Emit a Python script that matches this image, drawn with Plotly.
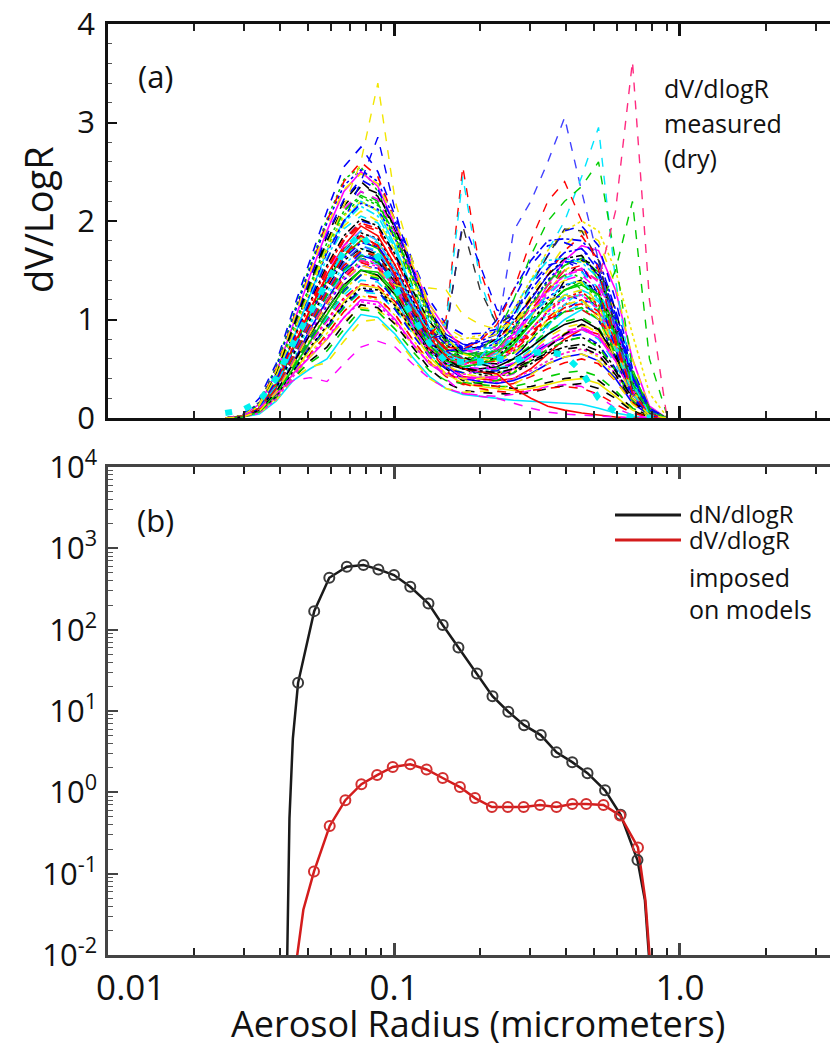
import plotly.graph_objects as go

# ---------------- DATA ----------------
# Panel (a): measured dry dV/dlogR size distributions, on the instrument radius bins
radius_bins = [0.0257, 0.0295, 0.0338, 0.0387, 0.0444, 0.0509, 0.0583, 0.0668, 0.0766, 0.0878,
               0.101, 0.116, 0.133, 0.152, 0.174, 0.2, 0.229, 0.262, 0.301, 0.345,
               0.395, 0.453, 0.519, 0.595, 0.682, 0.782, 0.896]

c01 = [0, 0.03, 0.2, 0.55, 1.1, 1.6, 2.1, 2.55, 2.75, 2.5, 2.05, 1.6, 1.2, 0.95, 0.85, 0.86, 0.9, 1.1, 1.35, 1.55, 1.6, 1.5, 1.2, 0.75, 0.3, 0.06, 0]
c02 = [0, 0.02, 0.15, 0.5, 1.0, 1.5, 2.0, 2.4, 2.6, 2.45, 2.0, 1.5, 1.1, 0.85, 0.75, 0.76, 0.8, 0.95, 1.2, 1.45, 1.7, 1.85, 1.6, 1.0, 0.4, 0.08, 0]
c03 = [0, 0.02, 0.14, 0.45, 0.95, 1.45, 1.9, 2.3, 2.5, 2.35, 1.95, 1.55, 1.15, 0.9, 0.7, 0.64, 0.65, 0.8, 1.05, 1.35, 1.6, 1.75, 1.7, 1.3, 0.6, 0.12, 0]
c04 = [0, 0.01, 0.1, 0.4, 0.85, 1.35, 1.85, 2.2, 2.4, 2.25, 1.9, 1.45, 1.05, 0.75, 0.6, 0.56, 0.55, 0.6, 0.8, 1.1, 1.4, 1.6, 1.55, 1.1, 0.45, 0.1, 0]
c05 = [0, 0.02, 0.12, 0.42, 0.9, 1.3, 1.75, 2.1, 2.3, 2.2, 1.8, 1.35, 0.95, 0.7, 0.6, 0.6, 0.62, 0.75, 1.0, 1.3, 1.55, 1.65, 1.4, 0.85, 0.3, 0.05, 0]
c06 = [0, 0.01, 0.1, 0.35, 0.8, 1.25, 1.7, 2.0, 2.2, 2.1, 1.75, 1.3, 0.9, 0.65, 0.5, 0.47, 0.45, 0.5, 0.65, 0.85, 1.0, 1.1, 1.0, 0.7, 0.3, 0.05, 0]
c07 = [0, 0.02, 0.11, 0.38, 0.78, 1.2, 1.6, 1.95, 2.1, 2.0, 1.7, 1.3, 0.95, 0.75, 0.7, 0.72, 0.75, 0.95, 1.25, 1.5, 1.75, 1.9, 1.8, 1.35, 0.6, 0.1, 0]
c08 = [0, 0.01, 0.09, 0.33, 0.72, 1.1, 1.5, 1.8, 2.0, 1.95, 1.65, 1.25, 0.9, 0.68, 0.58, 0.56, 0.55, 0.62, 0.78, 0.95, 1.1, 1.2, 1.15, 0.85, 0.35, 0.06, 0]
c09 = [0, 0.01, 0.08, 0.3, 0.7, 1.1, 1.45, 1.75, 1.95, 1.85, 1.55, 1.15, 0.8, 0.55, 0.42, 0.4, 0.38, 0.4, 0.5, 0.65, 0.8, 0.9, 0.85, 0.6, 0.25, 0.04, 0]
c10 = [0, 0.02, 0.1, 0.36, 0.75, 1.15, 1.5, 1.75, 1.9, 1.8, 1.5, 1.15, 0.85, 0.7, 0.68, 0.7, 0.72, 0.85, 1.05, 1.25, 1.4, 1.45, 1.3, 0.9, 0.4, 0.08, 0]
c11 = [0, 0.01, 0.07, 0.28, 0.65, 1.0, 1.4, 1.7, 1.85, 1.75, 1.45, 1.05, 0.72, 0.5, 0.38, 0.35, 0.32, 0.3, 0.32, 0.36, 0.4, 0.42, 0.38, 0.25, 0.1, 0.02, 0]
c12 = [0, 0.02, 0.1, 0.32, 0.7, 1.05, 1.4, 1.65, 1.8, 1.72, 1.45, 1.12, 0.85, 0.7, 0.65, 0.66, 0.68, 0.78, 0.95, 1.15, 1.3, 1.35, 1.25, 0.95, 0.45, 0.1, 0]
c13 = [0, 0.01, 0.08, 0.3, 0.62, 0.98, 1.3, 1.58, 1.75, 1.7, 1.45, 1.1, 0.78, 0.58, 0.5, 0.5, 0.5, 0.55, 0.65, 0.75, 0.85, 0.9, 0.8, 0.55, 0.2, 0.03, 0]
c14 = [0, 0.01, 0.09, 0.3, 0.6, 0.95, 1.25, 1.52, 1.7, 1.65, 1.4, 1.08, 0.8, 0.62, 0.55, 0.56, 0.58, 0.7, 0.9, 1.1, 1.25, 1.3, 1.15, 0.75, 0.3, 0.05, 0]
c15 = [0, 0.01, 0.07, 0.26, 0.56, 0.9, 1.2, 1.48, 1.65, 1.6, 1.38, 1.05, 0.75, 0.52, 0.4, 0.37, 0.35, 0.38, 0.45, 0.55, 0.62, 0.65, 0.58, 0.4, 0.15, 0.03, 0]
c16 = [0, 0.02, 0.09, 0.3, 0.6, 0.92, 1.2, 1.45, 1.6, 1.55, 1.32, 1.02, 0.76, 0.6, 0.55, 0.57, 0.6, 0.72, 0.88, 1.0, 1.08, 1.1, 1.0, 0.7, 0.3, 0.05, 0]
c17 = [0, 0.01, 0.06, 0.24, 0.52, 0.82, 1.1, 1.38, 1.55, 1.5, 1.3, 1.0, 0.72, 0.52, 0.42, 0.41, 0.4, 0.45, 0.58, 0.72, 0.85, 0.92, 0.85, 0.6, 0.25, 0.04, 0]
c18 = [0, 0.01, 0.07, 0.26, 0.55, 0.85, 1.1, 1.35, 1.5, 1.45, 1.25, 0.95, 0.7, 0.55, 0.5, 0.5, 0.52, 0.6, 0.72, 0.85, 0.95, 1.0, 0.9, 0.62, 0.25, 0.04, 0]
c19 = [0, 0.01, 0.06, 0.22, 0.48, 0.75, 1.0, 1.28, 1.45, 1.42, 1.22, 0.92, 0.65, 0.46, 0.36, 0.34, 0.32, 0.32, 0.36, 0.42, 0.46, 0.48, 0.42, 0.28, 0.1, 0.02, 0]
c20 = [0, 0.01, 0.07, 0.25, 0.52, 0.8, 1.02, 1.25, 1.4, 1.38, 1.2, 0.92, 0.68, 0.55, 0.52, 0.54, 0.56, 0.66, 0.8, 0.95, 1.08, 1.15, 1.05, 0.75, 0.32, 0.06, 0]
c21 = [0, 0.01, 0.05, 0.2, 0.45, 0.7, 0.92, 1.18, 1.35, 1.32, 1.15, 0.88, 0.62, 0.45, 0.35, 0.32, 0.3, 0.28, 0.3, 0.34, 0.38, 0.4, 0.35, 0.22, 0.08, 0.01, 0]
c22 = [0, 0.01, 0.06, 0.22, 0.47, 0.72, 0.92, 1.15, 1.3, 1.28, 1.1, 0.85, 0.62, 0.5, 0.46, 0.47, 0.48, 0.55, 0.65, 0.75, 0.82, 0.85, 0.75, 0.5, 0.2, 0.03, 0]
c23 = [0, 0.01, 0.05, 0.2, 0.43, 0.65, 0.85, 1.08, 1.25, 1.22, 1.05, 0.8, 0.57, 0.42, 0.34, 0.33, 0.32, 0.35, 0.42, 0.5, 0.56, 0.6, 0.55, 0.38, 0.15, 0.02, 0]
c24 = [0, 0.01, 0.06, 0.22, 0.45, 0.62, 0.8, 1.02, 1.2, 1.18, 1.0, 0.76, 0.55, 0.44, 0.4, 0.41, 0.42, 0.5, 0.62, 0.74, 0.84, 0.9, 0.82, 0.58, 0.24, 0.04, 0]
c25 = [0, 0.01, 0.05, 0.18, 0.4, 0.58, 0.72, 0.95, 1.15, 1.12, 0.95, 0.72, 0.5, 0.36, 0.28, 0.26, 0.25, 0.24, 0.26, 0.3, 0.33, 0.35, 0.3, 0.2, 0.07, 0.01, 0]
c26 = [0, 0.01, 0.05, 0.2, 0.42, 0.56, 0.68, 0.9, 1.1, 1.08, 0.9, 0.68, 0.48, 0.38, 0.35, 0.36, 0.38, 0.46, 0.58, 0.7, 0.78, 0.82, 0.72, 0.48, 0.18, 0.03, 0]
c27 = [0, 0.01, 0.04, 0.17, 0.38, 0.5, 0.6, 0.84, 1.05, 1.02, 0.85, 0.62, 0.42, 0.3, 0.24, 0.22, 0.2, 0.18, 0.17, 0.16, 0.15, 0.14, 0.1, 0.05, 0.02, 0, 0]
c28 = [0, 0.01, 0.05, 0.18, 0.4, 0.52, 0.56, 0.78, 0.98, 1.0, 0.82, 0.6, 0.4, 0.3, 0.26, 0.27, 0.28, 0.34, 0.44, 0.55, 0.62, 0.65, 0.58, 0.38, 0.14, 0.02, 0]
c29 = [0, 0.01, 0.06, 0.24, 0.5, 0.8, 1.05, 1.3, 1.45, 1.4, 1.2, 0.95, 0.75, 0.68, 0.7, 0.75, 0.82, 1.05, 1.35, 1.65, 1.9, 1.95, 1.75, 1.2, 0.5, 0.1, 0]
c30 = [0, 0.02, 0.1, 0.35, 0.72, 1.1, 1.45, 1.72, 1.85, 1.75, 1.45, 1.1, 0.82, 0.62, 0.5, 0.47, 0.45, 0.3, 0.2, 0.12, 0.08, 0.05, 0.03, 0.01, 0, 0, 0]
c31 = [0, 0.01, 0.08, 0.3, 0.65, 1.0, 1.3, 1.55, 1.65, 1.55, 1.3, 0.95, 0.62, 0.4, 0.25, 0.22, 0.2, 0.15, 0.1, 0.06, 0.04, 0.03, 0.02, 0.01, 0, 0, 0]
c32 = [0, 0.02, 0.12, 0.4, 0.85, 1.3, 1.7, 2.05, 2.2, 2.1, 1.8, 1.4, 1.05, 0.85, 0.8, 0.84, 0.88, 1.1, 1.4, 1.7, 1.9, 2.0, 1.9, 1.5, 0.85, 0.25, 0.02]
c33 = [0, 0.02, 0.13, 0.46, 0.92, 1.38, 1.8, 2.15, 2.35, 2.28, 1.92, 1.5, 1.1, 0.8, 0.62, 0.55, 0.5, 0.52, 0.6, 0.72, 0.85, 0.95, 0.9, 0.65, 0.28, 0.05, 0]
c34 = [0, 0.01, 0.09, 0.32, 0.68, 1.05, 1.38, 1.62, 1.78, 1.74, 1.5, 1.18, 0.9, 0.75, 0.72, 0.78, 0.85, 1.05, 1.3, 1.52, 1.68, 1.72, 1.5, 1.0, 0.42, 0.08, 0]
c35 = [0, 0.01, 0.06, 0.24, 0.5, 0.78, 1.05, 1.32, 1.5, 1.48, 1.28, 1.0, 0.74, 0.58, 0.52, 0.55, 0.6, 0.75, 0.95, 1.15, 1.3, 1.38, 1.25, 0.85, 0.35, 0.06, 0]
c36 = [0, 0.01, 0.07, 0.27, 0.58, 0.9, 1.18, 1.42, 1.58, 1.52, 1.3, 1.0, 0.7, 0.48, 0.35, 0.3, 0.27, 0.26, 0.28, 0.3, 0.32, 0.3, 0.24, 0.14, 0.05, 0.01, 0]
c37 = [0, 0.02, 0.11, 0.4, 0.82, 1.22, 1.62, 1.92, 2.05, 1.98, 1.7, 1.32, 0.98, 0.78, 0.7, 0.7, 0.72, 0.82, 0.98, 1.12, 1.22, 1.25, 1.1, 0.75, 0.3, 0.05, 0]
c38 = [0, 0.01, 0.05, 0.19, 0.42, 0.64, 0.82, 1.02, 1.18, 1.15, 0.98, 0.75, 0.55, 0.45, 0.44, 0.48, 0.55, 0.7, 0.9, 1.08, 1.2, 1.25, 1.1, 0.72, 0.28, 0.05, 0]
c39 = [0, 0.02, 0.14, 0.48, 0.98, 1.48, 1.95, 2.32, 2.48, 2.38, 2.0, 1.55, 1.12, 0.82, 0.65, 0.6, 0.58, 0.65, 0.8, 1.0, 1.15, 1.2, 1.05, 0.7, 0.28, 0.05, 0]
c40 = [0, 0.01, 0.08, 0.3, 0.64, 1.0, 1.32, 1.6, 1.72, 1.66, 1.42, 1.1, 0.8, 0.6, 0.5, 0.48, 0.46, 0.5, 0.58, 0.66, 0.72, 0.75, 0.68, 0.48, 0.2, 0.03, 0]
d01 = [0, 0.02, 0.16, 0.52, 1.05, 1.55, 2.02, 2.42, 2.55, 2.3, 1.9, 1.42, 1.0, 0.72, 0.6, 0.62, 0.7, 0.88, 1.15, 1.4, 1.5, 1.42, 1.1, 0.62, 0.2, 0.03, 0]
d02 = [0, 0.01, 0.11, 0.4, 0.82, 1.25, 1.62, 1.98, 2.15, 2.05, 1.72, 1.28, 0.92, 0.66, 0.55, 0.5, 0.48, 0.55, 0.7, 0.92, 1.15, 1.3, 1.22, 0.82, 0.3, 0.05, 0]
d03 = [0, 0.01, 0.08, 0.31, 0.68, 1.02, 1.36, 1.66, 1.82, 1.78, 1.52, 1.18, 0.88, 0.68, 0.6, 0.6, 0.65, 0.8, 1.02, 1.28, 1.5, 1.6, 1.45, 0.95, 0.38, 0.06, 0]
d04 = [0, 0.01, 0.07, 0.26, 0.55, 0.86, 1.14, 1.4, 1.55, 1.52, 1.34, 1.04, 0.78, 0.62, 0.58, 0.62, 0.7, 0.86, 1.05, 1.22, 1.35, 1.4, 1.25, 0.85, 0.35, 0.06, 0]
d05 = [0, 0.01, 0.06, 0.23, 0.5, 0.76, 1.0, 1.22, 1.36, 1.34, 1.18, 0.92, 0.7, 0.58, 0.56, 0.6, 0.68, 0.82, 0.98, 1.12, 1.22, 1.25, 1.12, 0.78, 0.32, 0.05, 0]
d06 = [0, 0.02, 0.13, 0.45, 0.9, 1.35, 1.78, 2.12, 2.3, 2.22, 1.88, 1.45, 1.05, 0.78, 0.66, 0.65, 0.7, 0.85, 1.08, 1.3, 1.45, 1.5, 1.35, 0.9, 0.35, 0.06, 0]
d07 = [0, 0.01, 0.09, 0.34, 0.72, 1.08, 1.42, 1.7, 1.88, 1.82, 1.55, 1.2, 0.88, 0.64, 0.5, 0.44, 0.42, 0.46, 0.55, 0.68, 0.78, 0.82, 0.74, 0.5, 0.2, 0.03, 0]
d08 = [0, 0.01, 0.07, 0.27, 0.58, 0.9, 1.18, 1.44, 1.6, 1.56, 1.36, 1.06, 0.8, 0.64, 0.6, 0.64, 0.74, 0.92, 1.15, 1.38, 1.55, 1.62, 1.48, 1.02, 0.4, 0.07, 0]
d09 = [0, 0.01, 0.06, 0.22, 0.46, 0.7, 0.9, 1.12, 1.28, 1.26, 1.1, 0.86, 0.64, 0.52, 0.5, 0.54, 0.62, 0.78, 0.96, 1.12, 1.25, 1.3, 1.18, 0.82, 0.32, 0.05, 0]
d10 = [0, 0.01, 0.05, 0.2, 0.44, 0.66, 0.86, 1.08, 1.24, 1.2, 1.04, 0.8, 0.58, 0.44, 0.38, 0.36, 0.36, 0.4, 0.48, 0.58, 0.66, 0.7, 0.62, 0.42, 0.16, 0.02, 0]
d11 = [0, 0.02, 0.12, 0.42, 0.86, 1.28, 1.68, 2.0, 2.18, 2.12, 1.82, 1.42, 1.05, 0.82, 0.72, 0.8, 1.0, 1.3, 1.6, 1.8, 1.82, 1.8, 1.62, 1.1, 0.45, 0.08, 0]
d12 = [0, 0.01, 0.1, 0.36, 0.76, 1.14, 1.5, 1.8, 1.96, 1.9, 1.62, 1.25, 0.92, 0.7, 0.6, 0.58, 0.6, 0.7, 0.86, 1.02, 1.15, 1.2, 1.08, 0.72, 0.28, 0.04, 0]
d13 = [0, 0.01, 0.07, 0.26, 0.56, 0.88, 1.16, 1.42, 1.58, 1.54, 1.32, 1.0, 0.72, 0.52, 0.42, 0.38, 0.36, 0.4, 0.48, 0.58, 0.66, 0.7, 0.64, 0.45, 0.18, 0.03, 0]
d14 = [0, 0.02, 0.11, 0.4, 0.8, 1.18, 1.55, 1.85, 2.02, 1.95, 1.66, 1.3, 0.98, 0.78, 0.7, 0.72, 0.8, 0.98, 1.22, 1.45, 1.62, 1.65, 1.45, 0.95, 0.38, 0.06, 0]
d15 = [0, 0.01, 0.05, 0.21, 0.46, 0.7, 0.9, 1.12, 1.3, 1.28, 1.12, 0.88, 0.66, 0.52, 0.46, 0.46, 0.5, 0.6, 0.74, 0.88, 0.98, 1.02, 0.92, 0.62, 0.24, 0.04, 0]
d16 = [0, 0.01, 0.08, 0.3, 0.64, 0.98, 1.28, 1.55, 1.72, 1.68, 1.45, 1.12, 0.84, 0.66, 0.58, 0.58, 0.62, 0.74, 0.9, 1.05, 1.15, 1.18, 1.05, 0.7, 0.28, 0.05, 0]
d17 = [0, 0.01, 0.06, 0.24, 0.52, 0.8, 1.06, 1.3, 1.46, 1.44, 1.26, 0.98, 0.72, 0.54, 0.45, 0.42, 0.42, 0.48, 0.6, 0.74, 0.86, 0.94, 0.88, 0.62, 0.25, 0.04, 0]
d18 = [0, 0.02, 0.14, 0.46, 0.94, 1.42, 1.86, 2.22, 2.42, 2.32, 1.95, 1.5, 1.08, 0.8, 0.68, 0.72, 0.9, 1.2, 1.55, 1.75, 1.78, 1.72, 1.55, 1.05, 0.42, 0.07, 0]
d19 = [0, 0.01, 0.09, 0.32, 0.68, 1.04, 1.36, 1.64, 1.8, 1.74, 1.48, 1.14, 0.84, 0.64, 0.56, 0.56, 0.6, 0.72, 0.9, 1.08, 1.22, 1.28, 1.15, 0.78, 0.3, 0.05, 0]
d20 = [0, 0.01, 0.06, 0.23, 0.5, 0.76, 0.98, 1.2, 1.35, 1.32, 1.15, 0.9, 0.68, 0.56, 0.54, 0.58, 0.66, 0.84, 1.06, 1.28, 1.45, 1.52, 1.38, 0.95, 0.38, 0.06, 0]
d21 = [0, 0.01, 0.07, 0.28, 0.6, 0.92, 1.2, 1.46, 1.62, 1.58, 1.38, 1.08, 0.8, 0.6, 0.5, 0.46, 0.44, 0.48, 0.56, 0.64, 0.7, 0.72, 0.64, 0.44, 0.17, 0.03, 0]
d22 = [0, 0.02, 0.12, 0.44, 0.88, 1.32, 1.72, 2.06, 2.24, 2.16, 1.84, 1.42, 1.04, 0.78, 0.66, 0.64, 0.66, 0.78, 0.96, 1.15, 1.3, 1.36, 1.22, 0.82, 0.32, 0.05, 0]
d23 = [0, 0.01, 0.08, 0.29, 0.62, 0.95, 1.24, 1.5, 1.66, 1.62, 1.4, 1.08, 0.8, 0.62, 0.56, 0.62, 0.8, 1.1, 1.4, 1.6, 1.62, 1.58, 1.42, 0.96, 0.38, 0.06, 0]
d24 = [0, 0.01, 0.05, 0.19, 0.42, 0.62, 0.8, 0.98, 1.12, 1.1, 0.96, 0.75, 0.56, 0.44, 0.4, 0.4, 0.44, 0.54, 0.68, 0.82, 0.92, 0.96, 0.86, 0.58, 0.22, 0.03, 0]
d25 = [0, 0.02, 0.15, 0.5, 1.02, 1.52, 1.98, 2.36, 2.52, 2.4, 2.0, 1.52, 1.1, 0.82, 0.7, 0.7, 0.76, 0.92, 1.16, 1.4, 1.58, 1.62, 1.45, 0.98, 0.4, 0.07, 0]
d26 = [0, 0.01, 0.1, 0.37, 0.78, 1.16, 1.52, 1.82, 1.98, 1.92, 1.62, 1.24, 0.9, 0.68, 0.58, 0.56, 0.58, 0.68, 0.84, 1.0, 1.12, 1.16, 1.04, 0.7, 0.27, 0.04, 0]
d27 = [0, 0.01, 0.07, 0.27, 0.58, 0.9, 1.18, 1.44, 1.6, 1.56, 1.36, 1.06, 0.78, 0.6, 0.52, 0.5, 0.5, 0.56, 0.66, 0.78, 0.88, 0.92, 0.84, 0.58, 0.23, 0.04, 0]
d28 = [0, 0.01, 0.06, 0.22, 0.48, 0.72, 0.94, 1.16, 1.32, 1.3, 1.14, 0.9, 0.68, 0.55, 0.52, 0.55, 0.62, 0.78, 0.98, 1.18, 1.34, 1.4, 1.28, 0.88, 0.35, 0.06, 0]
d29 = [0, 0.02, 0.13, 0.46, 0.92, 1.36, 1.78, 2.1, 2.26, 2.18, 1.86, 1.44, 1.06, 0.8, 0.66, 0.62, 0.6, 0.66, 0.8, 0.96, 1.08, 1.12, 1.0, 0.66, 0.25, 0.04, 0]
d30 = [0, 0.01, 0.09, 0.33, 0.7, 1.06, 1.4, 1.68, 1.84, 1.78, 1.52, 1.16, 0.86, 0.66, 0.58, 0.6, 0.66, 0.82, 1.04, 1.26, 1.42, 1.48, 1.32, 0.88, 0.34, 0.06, 0]

# outlying spectra with spikes
s01 = [0, 0.02, 0.12, 0.42, 0.85, 1.3, 1.75, 2.15, 2.6, 3.4, 2.2, 1.6, 1.15, 0.92, 0.82, 0.8, 0.85, 0.98, 1.15, 1.3, 1.4, 1.38, 1.15, 0.7, 0.25, 0.04, 0]
s02 = [0, 0.02, 0.1, 0.38, 0.8, 1.2, 1.6, 2.0, 2.4, 2.85, 2.1, 1.5, 1.1, 0.85, 0.75, 0.72, 0.78, 0.9, 1.05, 1.2, 1.25, 1.2, 1.0, 0.6, 0.2, 0.03, 0]
s03 = [0, 0.01, 0.08, 0.3, 0.65, 1.0, 1.35, 1.65, 1.85, 1.75, 1.45, 1.1, 0.85, 1.0, 2.55, 1.5, 1.0, 0.95, 1.1, 1.3, 1.5, 1.55, 1.3, 0.75, 0.25, 0.04, 0]
s04 = [0, 0.01, 0.09, 0.32, 0.7, 1.05, 1.4, 1.7, 1.9, 1.8, 1.5, 1.15, 0.9, 0.95, 2.45, 1.4, 0.9, 0.9, 1.05, 1.2, 1.35, 1.4, 1.2, 0.7, 0.25, 0.04, 0]
s05 = [0, 0.01, 0.07, 0.28, 0.6, 0.92, 1.25, 1.52, 1.68, 1.6, 1.35, 1.05, 0.8, 0.85, 2.0, 1.55, 1.1, 1.0, 1.2, 1.45, 1.6, 1.55, 1.25, 0.7, 0.22, 0.03, 0]
s06 = [0, 0.01, 0.08, 0.3, 0.62, 0.95, 1.28, 1.55, 1.7, 1.62, 1.38, 1.08, 0.8, 0.9, 1.95, 1.3, 0.95, 1.05, 1.35, 1.65, 1.92, 1.9, 1.6, 0.9, 0.3, 0.05, 0]
s07 = [0, 0.01, 0.08, 0.3, 0.64, 0.98, 1.3, 1.58, 1.75, 1.68, 1.42, 1.1, 0.82, 0.66, 0.62, 0.68, 0.85, 1.9, 2.2, 2.6, 3.05, 2.3, 1.6, 0.9, 0.25, 0.04, 0]
s08 = [0, 0.01, 0.07, 0.27, 0.58, 0.9, 1.2, 1.48, 1.62, 1.56, 1.32, 1.02, 0.76, 0.6, 0.56, 0.6, 0.72, 1.0, 1.35, 1.7, 2.0, 2.45, 2.95, 1.4, 0.35, 0.05, 0]
s09 = [0, 0.01, 0.08, 0.3, 0.62, 0.95, 1.25, 1.5, 1.65, 1.58, 1.35, 1.05, 0.8, 0.66, 0.62, 0.68, 0.85, 1.2, 1.65, 2.0, 2.2, 2.35, 2.6, 1.6, 0.5, 0.06, 0]
s10 = [0, 0.01, 0.06, 0.24, 0.52, 0.82, 1.1, 1.35, 1.5, 1.45, 1.25, 0.98, 0.74, 0.6, 0.56, 0.6, 0.7, 0.9, 1.15, 1.35, 1.45, 1.3, 1.1, 1.5, 2.2, 0.6, 0.05]
s11 = [0, 0.01, 0.07, 0.27, 0.58, 0.9, 1.2, 1.45, 1.6, 1.55, 1.32, 1.02, 0.75, 0.6, 0.55, 0.58, 0.68, 0.88, 1.12, 1.35, 1.5, 1.5, 1.4, 2.1, 3.62, 1.2, 0.05]
s12 = [0, 0.01, 0.08, 0.3, 0.63, 0.96, 1.28, 1.55, 1.7, 1.64, 1.4, 1.1, 0.85, 0.72, 0.7, 0.78, 0.95, 1.3, 1.8, 2.2, 2.4, 2.0, 1.5, 0.8, 0.25, 0.04, 0]
low_magenta = [0, 0.02, 0.1, 0.25, 0.38, 0.41, 0.37, 0.55, 0.72, 0.78, 0.72, 0.55, 0.4, 0.3, 0.25, 0.23, 0.22, 0.24, 0.28, 0.32, 0.34, 0.32, 0.22, 0.1, 0.03, 0, 0]
valley_yellow = [0, 0.01, 0.07, 0.26, 0.55, 0.86, 1.15, 1.4, 1.55, 1.5, 1.35, 1.3, 1.32, 1.3, 1.05, 0.95, 0.9, 0.98, 1.1, 1.2, 1.25, 1.2, 1.0, 0.6, 0.2, 0.03, 0]
# mean spectrum (thick cyan dashes)
mean_cyan = [0.05, 0.08, 0.17, 0.4, 0.76, 1.08, 1.4, 1.69, 1.88, 1.63, 1.32, 1.05, 0.76, 0.57, 0.57, 0.57, 0.61, 0.57, 0.66, 0.67, 0.64, 0.47, 0.2, 0.06, 0.01, 0, 0]

# Panel (b): distributions imposed on models
dn_marker_r = [0.0462, 0.0526, 0.0594, 0.0684, 0.0782, 0.0882, 0.1, 0.114, 0.132, 0.148, 0.168,
               0.195, 0.221, 0.251, 0.285, 0.326, 0.37, 0.42, 0.475, 0.547, 0.62, 0.71]
dn_marker_v = [22.2, 169, 435, 594, 624, 551, 470, 337, 210, 114, 60.5,
               29, 15.2, 9.8, 6.7, 5.06, 3.1, 2.35, 1.72, 1.06, 0.53, 0.147]
dn_left_r = [0.0423, 0.0431, 0.0443]
dn_left_v = [0.008, 0.48, 4.6]
dn_right_r = [0.754, 0.782]
dn_right_v = [0.047, 0.008]

dv_marker_r = [0.0525, 0.0596, 0.0676, 0.0769, 0.0873, 0.099, 0.114, 0.130, 0.148, 0.170, 0.192,
               0.220, 0.250, 0.284, 0.324, 0.37, 0.42, 0.47, 0.54, 0.617, 0.713]
dv_marker_v = [0.106, 0.386, 0.80, 1.26, 1.63, 2.05, 2.21, 1.91, 1.50, 1.16, 0.85,
               0.66, 0.66, 0.66, 0.70, 0.66, 0.72, 0.72, 0.70, 0.52, 0.21]
dv_left_r = [0.0455, 0.0482]
dv_left_v = [0.008, 0.036]
dv_right_r = [0.757, 0.786]
dv_right_v = [0.047, 0.008]

x_tick_vals = [0.01, 0.1, 1.0]
x_tick_text = ["\u00a0\u00a0\u00a0\u00a0\u00a00.01", "0.1", "1.0"]
y_a_ticks = [0, 1, 2, 3, 4]
y_b_ticks = [0.01, 0.1, 1, 10, 100, 1000, 10000]
y_b_text = ["10<sup>-2</sup>", "10<sup>-1</sup>", "10<sup>0</sup>", "10<sup>1</sup>",
            "10<sup>2</sup>", "10<sup>3</sup>", "10<sup>4</sup>"]

# ---------------- FIGURE ----------------
FONT = "Open Sans"
W, H = 830, 1045
ML, MR, MT, MB = 108, 0, 24, 90
PW, PH = W - ML - MR, H - MT - MB


def px(xp):
    return (xp - ML) / PW


def py(yp):
    return (H - MB - yp) / PH


band_curves = [c01, d01, c02, d02, c03, d03, c04, d04, c05, d05, c06, d06, c07, d07, c08, d08, c09, d09,
               c10, d10, c11, d11, c12, d12, c13, d13, c14, d14, c15, d15, c16, d16, c17, d17, c18, d18,
               c19, d19, c20, d20, c21, d21, c22, d22, c23, d23, c24, d24, c25, d25, c26, d26, c27, d27,
               c28, d28, c29, d29, c30, d30, c31, c32, c33, c34, c35, c36, c37, c38, c39, c40]
matlab_cols = ["#0000ff", "#00cc00", "#ff0000", "#00e5ff", "#ff00ff", "#f2e600", "#000000"]
dashes = ["dash", "dot", "dash", "dashdot", "solid", "dash"]

fig = go.Figure()
for i, curve in enumerate(band_curves):
    fig.add_trace(go.Scatter(x=radius_bins, y=curve, mode="lines",
                             line=dict(color=matlab_cols[i % 7], width=1.6, dash=dashes[i % 6]),
                             xaxis="x", yaxis="y", hoverinfo="skip", showlegend=False))

spikes = [s01, s02, s03, s04, s05, s06, s07, s08, s09, s10, s11, s12, low_magenta, valley_yellow]
spike_cols = ["#f2e600", "#0000ff", "#ff0000", "#00e5ff", "#0000ff", "#333333", "#4040ff",
              "#00e5ff", "#00cc00", "#00cc00", "#ff2a80", "#ff0000", "#ff00ff", "#f2e600"]
for curve, col in zip(spikes, spike_cols):
    fig.add_trace(go.Scatter(x=radius_bins, y=curve, mode="lines",
                             line=dict(color=col, width=1.4, dash="dash"),
                             xaxis="x", yaxis="y", hoverinfo="skip", showlegend=False))

fig.add_trace(go.Scatter(x=radius_bins, y=mean_cyan, mode="lines",
                         line=dict(color="#00f0f0", width=6, dash="7px,13px"),
                         xaxis="x", yaxis="y", hoverinfo="skip", showlegend=False))

# panel (b)
BLACK, RED = "#1a1a1a", "#d41c1c"
fig.add_trace(go.Scatter(x=dn_left_r + dn_marker_r + dn_right_r, y=dn_left_v + dn_marker_v + dn_right_v,
                         mode="lines", line=dict(color=BLACK, width=2.5),
                         xaxis="x2", yaxis="y2", showlegend=False))
fig.add_trace(go.Scatter(x=dv_left_r + dv_marker_r + dv_right_r, y=dv_left_v + dv_marker_v + dv_right_v,
                         mode="lines", line=dict(color=RED, width=2.5),
                         xaxis="x2", yaxis="y2", showlegend=False))
fig.add_trace(go.Scatter(x=dn_marker_r, y=dn_marker_v, mode="markers",
                         marker=dict(symbol="circle-open", size=10, color="#3a3a3a", line=dict(width=2)),
                         xaxis="x2", yaxis="y2", showlegend=False))
fig.add_trace(go.Scatter(x=dv_marker_r, y=dv_marker_v, mode="markers",
                         marker=dict(symbol="circle-open", size=10, color="#d33030", line=dict(width=2)),
                         xaxis="x2", yaxis="y2", showlegend=False))

minor_x = [0.02, 0.03, 0.04, 0.05, 0.06, 0.07, 0.08, 0.09, 0.2, 0.3, 0.4, 0.5, 0.6, 0.7, 0.8, 0.9, 2, 3]
minor_y = [m * d for d in [0.01, 0.1, 1, 10, 100, 1000] for m in range(2, 10)]

xcommon = dict(type="log", range=[-2, 0.5245], showgrid=False, zeroline=False,
               showline=True, mirror="ticks", ticks="inside", ticklen=12, tickwidth=2.5,
               tickvals=x_tick_vals,
               minor=dict(tickvals=minor_x, ticks="inside", ticklen=7, tickwidth=1.5, tickcolor="#222"))

fig.update_layout(
    width=W, height=H,
    margin=dict(l=ML, r=MR, t=MT, b=MB),
    paper_bgcolor="white", plot_bgcolor="white",
    font=dict(family=FONT, color="#111"),
    xaxis=dict(**xcommon, anchor="y", domain=[0, 1], showticklabels=False,
               linecolor="#111", linewidth=3, tickcolor="#111"),
    yaxis=dict(domain=[py(418), 1.0], range=[0, 4], tickvals=y_a_ticks, showgrid=False, zeroline=False,
               showline=True, linecolor="#111", linewidth=2.5, ticks="inside", ticklen=9, tickwidth=2,
               tickcolor="#111", tickfont=dict(size=31, family=FONT, color="#111"), ticklabelstandoff=4,
               minor=dict(dtick=0.2, ticks="inside", ticklen=4, tickwidth=1, tickcolor="#555")),
    xaxis2=dict(**xcommon, anchor="y2", domain=[0, 1], ticktext=x_tick_text,
                linecolor="#444", linewidth=2.5, tickcolor="#444",
                tickfont=dict(size=35, family=FONT, color="#111"), ticklabelstandoff=0),
    yaxis2=dict(type="log", domain=[0, py(467)], range=[-2, 4], tickvals=y_b_ticks, ticktext=y_b_text,
                showgrid=False, zeroline=False, showline=True, linecolor="#444", linewidth=2.5,
                ticks="inside", ticklen=10, tickwidth=2, tickcolor="#444",
                tickfont=dict(size=31, family=FONT, color="#111"), ticklabelstandoff=2,
                minor=dict(tickvals=minor_y, ticks="inside", ticklen=5, tickwidth=1.2, tickcolor="#555")),
)

ann = []


def add_text(text, x, y, size, xanchor="left", angle=0):
    ann.append(dict(text=text, x=px(x), y=py(y), xref="paper", yref="paper", showarrow=False,
                    xanchor=xanchor, yanchor="middle", textangle=angle,
                    font=dict(family=FONT, size=size, color="#111")))


add_text("(a)", 136, 76, 31)
add_text("(b)", 135, 520, 31)
add_text("dV/dlogR", 662, 88, 25)
add_text("measured", 662, 123, 25)
add_text("(dry)", 662, 158, 25)
add_text("dN/dlogR", 687, 513, 24)
add_text("dV/dlogR", 687, 540, 24)
add_text("imposed", 687, 577, 25)
add_text("on models", 687, 609, 25)
add_text("dV/LogR", 38, 220, 38, xanchor="center", angle=-90)
add_text("Aerosol Radius (micrometers)", 478, 1023, 36, xanchor="center")
fig.update_layout(annotations=ann)

fig.add_shape(type="line", xref="paper", yref="paper", x0=px(615), x1=px(681), y0=py(515), y1=py(515),
              line=dict(color=BLACK, width=3))
fig.add_shape(type="line", xref="paper", yref="paper", x0=px(615), x1=px(681), y0=py(540), y1=py(540),
              line=dict(color=RED, width=3))

fig.write_html("out.html")
